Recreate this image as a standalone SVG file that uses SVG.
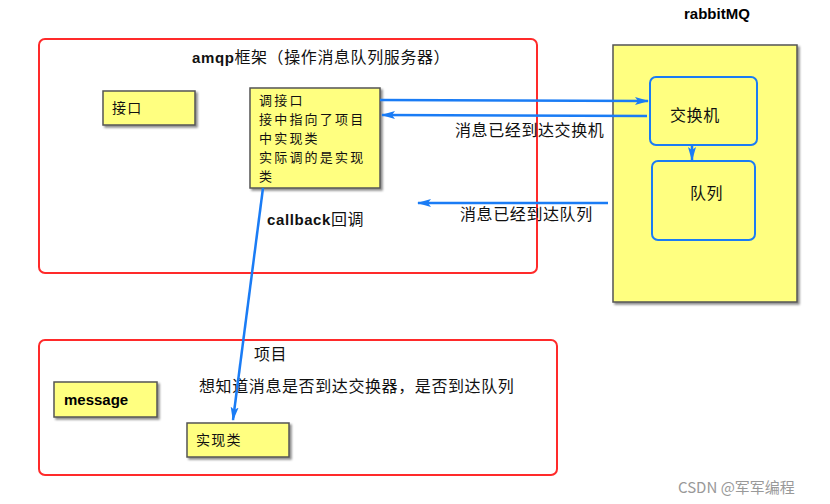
<svg xmlns="http://www.w3.org/2000/svg" width="830" height="504" viewBox="0 0 830 504">
<defs>
<filter id="sh" x="-10%" y="-10%" width="130%" height="130%">
<feDropShadow dx="2" dy="2" stdDeviation="1.2" flood-color="#000" flood-opacity="0.45"/>
</filter>
<marker id="ah" viewBox="0 0 14 10" refX="13" refY="5" markerWidth="14" markerHeight="10" markerUnits="userSpaceOnUse" orient="auto">
<path d="M0,1 L14,5 L0,9 L3,5 Z" fill="#1a7cf5"/>
</marker>
</defs>
<style>
.frame{fill:#fff;stroke:#ff2a2a;stroke-width:2}
.note{fill:#ffff80;stroke:#555;stroke-width:1.5;filter:url(#sh)}
.inner{fill:#ffff80;stroke:#1a7cf5;stroke-width:2}
.cn{font-family:"Noto Sans CJK SC","Liberation Sans",sans-serif;font-size:14px;fill:#111;letter-spacing:1.2px}
.ml{font-family:"Noto Sans CJK SC","Liberation Sans",sans-serif;font-size:13px;fill:#111;letter-spacing:2.2px}
.lab{font-family:"Noto Sans CJK SC","Liberation Sans",sans-serif;font-size:16px;fill:#111;letter-spacing:0.6px}
.b{font-family:"Liberation Sans",Arial,sans-serif;font-weight:bold;font-size:15px}
.con{fill:none;stroke:#1a7cf5;stroke-width:2.5;marker-end:url(#ah)}
</style>

<g id="amqp">
<rect class="frame" x="39" y="39" width="498" height="234" rx="6"/>
<text class="lab" x="192" y="63"><tspan class="b">amqp</tspan>框架（操作消息队列服务器）</text>
</g>

<g id="jiekou">
<rect class="note" x="103" y="91" width="92" height="34"/>
<text class="cn" x="112" y="113">接口</text>
</g>

<g id="tiaojiekou">
<rect class="note" x="250" y="88" width="130" height="100"/>
<text class="ml" x="259" y="105">调接口</text>
<text class="ml" x="259" y="124">接中指向了项目</text>
<text class="ml" x="259" y="143">中实现类</text>
<text class="ml" x="259" y="162">实际调的是实现</text>
<text class="ml" x="259" y="181">类</text>
</g>

<g id="rabbitmq">
<text class="b" x="684" y="19">rabbitMQ</text>
<rect class="note" x="613" y="45" width="184" height="257"/>
</g>

<g id="exchange">
<rect class="inner" x="650" y="77" width="107" height="68" rx="6"/>
<text class="lab" x="670" y="121">交换机</text>
</g>

<g id="queue">
<rect class="inner" x="652" y="161" width="103" height="79" rx="6"/>
<text class="lab" x="690" y="199">队列</text>
</g>

<g id="project">
<rect class="frame" x="39" y="340" width="518" height="135" rx="6"/>
<text class="lab" x="254" y="360">项目</text>
<text class="lab" x="199" y="392">想知道消息是否到达交换器，是否到达队列</text>
</g>

<g id="message">
<rect class="note" x="54" y="382" width="103" height="35"/>
<text class="b" x="64" y="405">message</text>
</g>

<g id="impl">
<rect class="note" x="187" y="423" width="102" height="34"/>
<text class="cn" x="196" y="445">实现类</text>
</g>

<g id="connectors">
<path class="con" d="M380,100 L648,101"/>
<path class="con" d="M647,116 L382,115"/>
<path class="con" d="M608,203 L418,203"/>
<path class="con" d="M692,145 L692,160"/>
<path class="con" d="M263,188 L233,420"/>
<text class="lab" x="455" y="136">消息已经到达交换机</text>
<text class="lab" x="460" y="220">消息已经到达队列</text>
<text class="lab" x="267" y="225"><tspan class="b">callback</tspan>回调</text>
</g>

<text x="678" y="493" font-family="'Noto Sans CJK SC','Liberation Sans',sans-serif" font-size="15" fill="#999">CSDN @军军编程</text>
</svg>
